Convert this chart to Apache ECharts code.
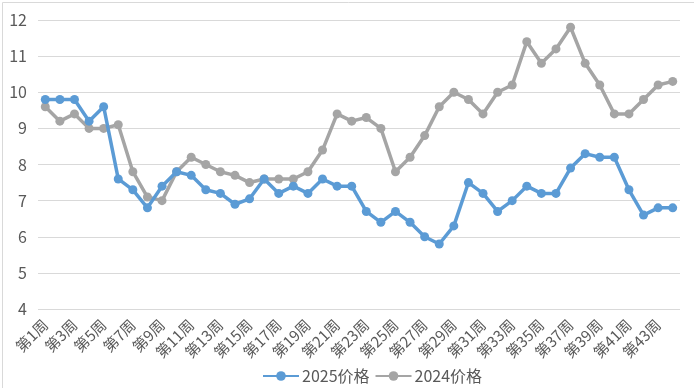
<!DOCTYPE html>
<html><head><meta charset="utf-8">
<script src="https://cdn.jsdelivr.net/npm/echarts@6/dist/echarts.min.js"></script>
<style>html,body{margin:0;padding:0;background:#fff}#c{width:694px;height:388px}</style>
</head><body><div id="c"></div>
<script>
const weeks = [];
for (let i = 1; i <= 44; i++) weeks.push('第' + i + '周');
const price2025 = [9.8,9.8,9.8,9.2,9.6,7.6,7.3,6.8,7.4,7.8,7.7,7.3,7.2,6.9,7.05,7.6,7.2,7.4,7.2,7.6,7.4,7.4,6.7,6.4,6.7,6.4,6.0,5.8,6.3,7.5,7.2,6.7,7.0,7.4,7.2,7.2,7.9,8.3,8.2,8.2,7.3,6.6,6.8,6.8];
const price2024 = [9.6,9.2,9.4,9.0,9.0,9.1,7.8,7.1,7.0,7.8,8.2,8.0,7.8,7.7,7.5,7.6,7.6,7.6,7.8,8.4,9.4,9.2,9.3,9.0,7.8,8.2,8.8,9.6,10.0,9.8,9.4,10.0,10.2,11.4,10.8,11.2,11.8,10.8,10.2,9.4,9.4,9.8,10.2,10.3];
const seriesNames = ['2025价格','2024价格'];
const font = '"Microsoft YaHei","Noto Sans CJK SC","DejaVu Sans",sans-serif';
const chart = echarts.init(document.getElementById('c'));
chart.setOption({
  animation: false,
  color: ['#5B9BD5', '#A5A5A5'],
  graphic: [{type:'rect', left:0, top:0, shape:{x:0.5,y:0.5,width:693,height:387}, style:{fill:'none', stroke:'#d9d9d9', lineWidth:1}, silent:true}],
  grid: {left: 38, right: 14, top: 20, bottom: 79},
  legend: {
    top: 363, left: 257, itemWidth: 36, itemHeight: 12, itemGap: 5,
    textStyle: {color: '#595959', fontSize: 16, fontFamily: font, padding: [0,0,0,-2]},
    data: seriesNames
  },
  xAxis: {
    type: 'category', data: weeks, boundaryGap: true,
    axisLine: {show: false}, axisTick: {show: false},
    axisLabel: {interval: 1, rotate: 45, color: '#595959', fontSize: 15, fontFamily: font, margin: 13}
  },
  yAxis: {
    type: 'value', min: 4, max: 12, interval: 1,
    axisLine: {show: false}, axisTick: {show: false},
    axisLabel: {color: '#595959', fontSize: 16, fontFamily: font, margin: 11},
    splitLine: {lineStyle: {color: '#d9d9d9', width: 1}}
  },
  series: [
    {name: seriesNames[0], type: 'line', data: price2025, symbol: 'circle', symbolSize: 9, lineStyle: {width: 3.5}, z: 3},
    {name: seriesNames[1], type: 'line', data: price2024, symbol: 'circle', symbolSize: 9, lineStyle: {width: 3.5}, z: 2}
  ]
});
</script></body></html>
